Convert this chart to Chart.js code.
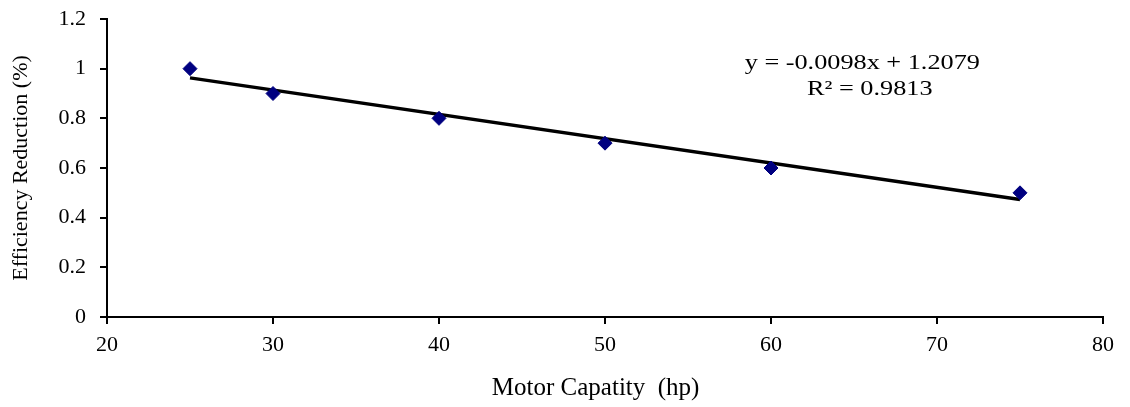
<!DOCTYPE html>
<html><head><meta charset="utf-8">
<script src="https://cdn.jsdelivr.net/npm/chart.js@4/dist/chart.umd.min.js"></script>
<style>html,body{margin:0;padding:0;background:#fff}#wrap{width:1130px;height:407px}</style>
</head><body><div id="wrap"><canvas id="c" width="1130" height="407"></canvas></div>
<script>
const capacity = [25, 30, 40, 50, 60, 75];
const reduction = [1.0, 0.9, 0.8, 0.7, 0.6, 0.5];
const trendSlope = -0.0098;
const trendIntercept = 1.2079;
const trendRange = [25, 75];
const xTicks = [20, 30, 40, 50, 60, 70, 80];
const yTicks = ['0', '0.2', '0.4', '0.6', '0.8', '1', '1.2'];
const equationText = ['y = -0.0098x + 1.2079', 'R\u00B2 = 0.9813'];

const trendPoints = trendRange.map(x => ({x: x, y: trendSlope * x + trendIntercept}));
const FONT = '"Liberation Serif", "Times New Roman", serif';

const eqPlugin = {
  id: 'eq',
  afterDatasetsDraw(chart) {
    const {ctx, scales} = chart;
    const cx = scales.x.getPixelForValue(65.5);
    const y1 = scales.y.getPixelForValue(1.02);
    const y2 = scales.y.getPixelForValue(0.915);
    ctx.save();
    ctx.fillStyle = '#000';
    ctx.font = '21px ' + FONT;
    ctx.textAlign = 'center';
    ctx.textBaseline = 'middle';
    ctx.translate(cx, 0);
    ctx.scale(1.25, 1);
    ctx.fillText(equationText[0], 0, y1);
    ctx.fillText(equationText[1], 6, y2);
    ctx.restore();
  }
};

new Chart(document.getElementById('c'), {
  type: 'scatter',
  data: {
    datasets: [
      {
        label: 'Trend',
        type: 'line',
        data: trendPoints,
        borderColor: '#000',
        borderWidth: 3.5,
        pointRadius: 0,
        fill: false,
        order: 2
      },
      {
        label: 'Efficiency',
        data: capacity.map((x, i) => ({x: x, y: reduction[i]})),
        pointStyle: 'rectRot',
        pointRadius: 7,
        backgroundColor: '#000080',
        borderColor: '#000080',
        borderWidth: 1,
        order: 1
      }
    ]
  },
  options: {
    responsive: false,
    animation: false,
    layout: {padding: {left: 0, right: 27, top: 19, bottom: 0}},
    plugins: {legend: {display: false}, tooltip: {enabled: false}},
    scales: {
      x: {
        type: 'linear',
        min: 20, max: 80,
        afterBuildTicks(s) { s.ticks = xTicks.map(v => ({value: v})); },
        afterFit(s) { s.height = 90; s.paddingLeft = 0; s.paddingRight = 0; },
        grid: {drawOnChartArea: false, color: '#000', lineWidth: 2, tickLength: 7},
        border: {color: '#000', width: 2},
        ticks: {color: '#000', font: {family: FONT, size: 22}, padding: 8, maxRotation: 0},
        title: {display: true, text: 'Motor Capatity  (hp)   ', color: '#000', font: {family: FONT, size: 25}, padding: {top: 15}}
      },
      y: {
        min: 0, max: 1.2,
        afterBuildTicks(s) { s.ticks = yTicks.map(t => ({value: parseFloat(t)})); },
        afterFit(s) { s.width = 107; s.paddingTop = 0; s.paddingBottom = 0; },
        grid: {drawOnChartArea: false, color: '#000', lineWidth: 2, tickLength: 7},
        border: {color: '#000', width: 2},
        ticks: {color: '#000', font: {family: FONT, size: 22}, padding: 14,
          callback: (v) => { const i = yTicks.findIndex(t => Math.abs(parseFloat(t) - v) < 1e-9); return i >= 0 ? yTicks[i] : ''; }},
        title: {display: true, text: 'Efficiency Reduction (%)', color: '#000', font: {family: FONT, size: 22}, padding: {top: 8, bottom: 4}}
      }
    }
  },
  plugins: [eqPlugin]
});
</script></body></html>
